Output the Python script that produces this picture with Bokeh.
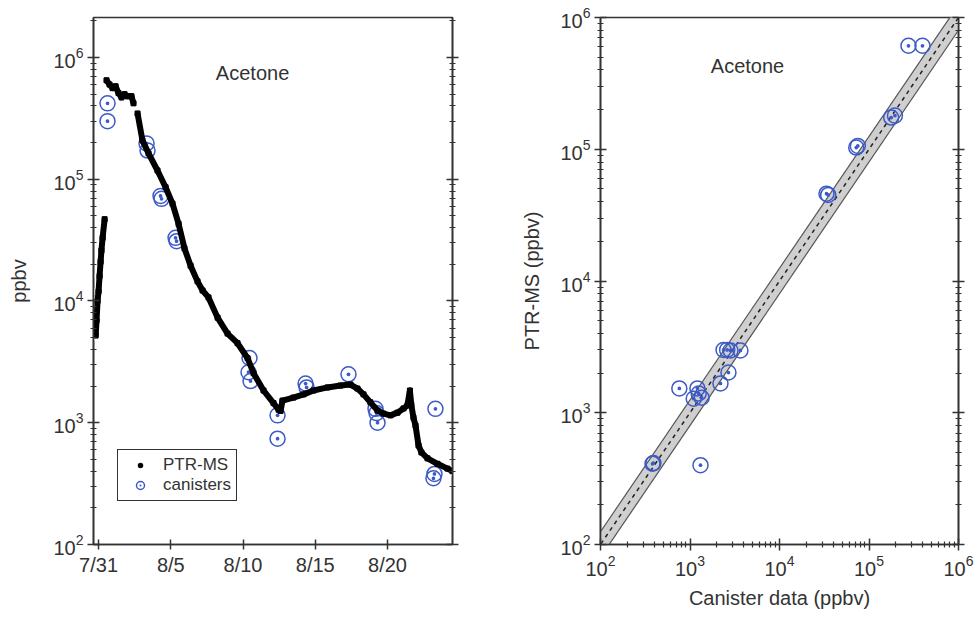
import math
from bokeh.plotting import figure
from bokeh.layouts import row
from bokeh.models import (Range1d, LogAxis, FixedTicker, LogTickFormatter, Label, Legend,
                          LegendItem, ColumnDataSource)
from bokeh.embed import file_html
from bokeh.resources import INLINE

nan = float("nan")

# ---------------- data (left panel: time series, days since 7/31) ----------------
ptr_day = [-0.2, -0.14, -0.07, 0.0, 0.07, 0.14, 0.2, 0.28, 0.42, nan,
           0.55, 0.76, 0.97, 1.18, 1.38, 1.59, 1.80, 2.0, 2.28, 2.42, nan,
           2.70, 3.04, 3.46, 4.08, 4.64, 5.12, 5.54, 5.95, 6.37, 6.85, 7.20, 7.61,
           8.24, 8.93, 9.62, 10.31, 10.73, 11.42, 12.11, 12.46, 12.60, 12.73, 13.49,
           14.19, 14.88, 15.85, 16.75, 17.44, 17.92, 18.34, 18.82, 19.31, 19.72,
           20.21, 20.69, 21.11, 21.38, 21.55, 21.65, 21.80, 21.94, 22.15, 22.35,
           22.77, 23.46, 24.15, 24.50]
ptr_val = [5.2e3, 6.9e3, 1.0e4, 1.2e4, 1.6e4, 2.1e4, 2.6e4, 3.3e4, 4.7e4, nan,
           6.5e5, 6.0e5, 5.6e5, 5.8e5, 5.1e5, 4.7e5, 5.0e5, 4.8e5, 4.8e5, 4.2e5, nan,
           3.47e5, 2.08e5, 1.63e5, 1.18e5, 8.6e4, 6.3e4, 4.3e4, 2.7e4, 1.95e4, 1.45e4, 1.22e4, 1.07e4,
           7.3e3, 5.4e3, 4.5e3, 3.4e3, 2.55e3, 1.84e3, 1.45e3, 1.28e3, 1.25e3, 1.52e3, 1.61e3,
           1.71e3, 1.84e3, 1.95e3, 2.02e3, 2.06e3, 1.91e3, 1.71e3, 1.47e3, 1.26e3, 1.19e3,
           1.15e3, 1.21e3, 1.31e3, 1.39e3, 1.84e3, 1.40e3, 1.10e3, 9.5e2, 6.5e2, 5.7e2,
           5.1e2, 4.6e2, 4.2e2, 4.0e2]

can_day = [0.62, 0.62, 3.32, 3.39, 4.29, 4.36, 5.33, 5.40, 10.45, 10.38, 10.52,
           12.39, 12.39, 14.33, 14.40, 17.30, 19.17, 19.24, 19.31, 23.32, 23.18, 23.25]
can_val = [4.2e5, 3.0e5, 1.97e5, 1.72e5, 7.3e4, 6.9e4, 3.3e4, 3.1e4, 3.4e3, 2.6e3, 2.2e3,
           1.15e3, 7.4e2, 2.1e3, 1.95e3, 2.5e3, 1.3e3, 1.2e3, 1.0e3, 1.3e3, 3.5e2, 3.8e2]

date_ticks = [0, 5, 10, 15, 20]
date_labels = ["7/31", "8/5", "8/10", "8/15", "8/20"]

# ---------------- data (right panel: canister vs PTR-MS) ----------------
sc_canister = [2.76e5, 3.96e5, 1.77e5, 1.95e5, 7.2e4, 7.5e4, 3.35e4, 3.5e4,
               2.37e3, 2.6e3, 2.84e3, 3.66e3, 2.69e3, 2.19e3, 7.6e2, 1.21e3,
               1.1e3, 1.25e3, 1.35e3, 3.81e2, 3.9e2, 1.31e3]
sc_ptrms = [6.1e5, 6.1e5, 1.74e5, 1.80e5, 1.03e5, 1.06e5, 4.6e4, 4.5e4,
            3.0e3, 3.0e3, 2.97e3, 2.97e3, 2.02e3, 1.67e3, 1.53e3, 1.53e3,
            1.28e3, 1.4e3, 1.3e3, 4.1e2, 4.15e2, 4.0e2]

one_to_one_x = [1e1, 1e7]
band_low_factor = 0.8
band_high_factor = 1.25

decades = [1e2, 1e3, 1e4, 1e5, 1e6]
minors = [m * d for d in [1e1, 1e2, 1e3, 1e4, 1e5, 1e6] for m in range(2, 10)]

# ---------------- styling ----------------
FONT = "Liberation Sans"
TXT = "#333333"
AX = "#333333"
BLUE = "#3c5ac8"


def style_axis(ax, labels=True):
    ax.axis_line_color = AX
    ax.axis_line_width = 1.6
    ax.major_tick_line_color = AX
    ax.major_tick_line_width = 1.5
    ax.major_tick_in = 6
    ax.major_tick_out = 6
    ax.minor_tick_line_color = AX
    ax.minor_tick_line_width = 1.2
    ax.minor_tick_in = 3
    ax.minor_tick_out = 3
    ax.major_label_text_font = FONT
    ax.major_label_text_color = TXT
    ax.major_label_text_font_size = "20px" if labels else "1px"
    if not labels:
        ax.major_label_text_alpha = 0
    ax.major_label_standoff = 4
    ax.axis_label_text_font = FONT
    ax.axis_label_text_color = TXT
    ax.axis_label_text_font_size = "20px"
    ax.axis_label_text_font_style = "normal"


# ---------------- left figure ----------------
p1 = figure(width=500, height=625, x_range=Range1d(-0.35, 24.5), y_range=Range1d(1e2, 2.13e6),
            y_axis_type="log", output_backend="svg", toolbar_location=None,
            min_border_left=93, min_border_right=48, min_border_top=17, min_border_bottom=80)
p1.grid.visible = False
p1.outline_line_color = AX
p1.outline_line_width = 1.6
p1.background_fill_color = "white"
p1.border_fill_color = "white"

xa = p1.xaxis[0]
xa.ticker = FixedTicker(ticks=date_ticks)
xa.major_label_overrides = {t: l for t, l in zip(date_ticks, date_labels)}
style_axis(xa)
xa.minor_tick_line_color = None
xa.major_tick_in = 5
xa.major_tick_out = 5

ya = p1.yaxis[0]
ya.ticker = FixedTicker(ticks=decades, minor_ticks=minors)
ya.formatter = LogTickFormatter()
ya.axis_label = "ppbv"
style_axis(ya)
ya.axis_label_standoff = 20

yr = LogAxis(ticker=FixedTicker(ticks=decades, minor_ticks=minors))
style_axis(yr, labels=False)
p1.add_layout(yr, "right")

ptr_src = ColumnDataSource(data=dict(x=ptr_day, y=ptr_val))

# PTR-MS point marks (black dot with white rim, drawn underneath; used for the legend glyph)
ptr_pts = p1.scatter("x", "y", source=ptr_src, marker="circle", size=8, fill_color="black",
                     line_color="white", line_width=2.5)
can_r = p1.scatter(can_day, can_val, marker="circle_dot", size=15, fill_color=None,
                   line_color=BLUE, line_width=1.5)
p1.line("x", "y", source=ptr_src, line_color="black", line_width=6, line_join="round")
p1.scatter("x", "y", source=ptr_src, marker="square", size=5, color="black")

p1.add_layout(Label(x=10.66, y=7.4e5, text="Acetone", text_align="center", text_baseline="middle",
                    text_font=FONT, text_font_size="20px", text_color=TXT))

leg = Legend(items=[LegendItem(label="PTR-MS", renderers=[ptr_pts]),
                    LegendItem(label="canisters", renderers=[can_r])],
             location=(24, 43), orientation="vertical")
leg.border_line_color = AX
leg.border_line_alpha = 1
leg.border_line_width = 1.5
leg.background_fill_alpha = 1
leg.padding = 5
leg.spacing = 0
leg.margin = 0
leg.glyph_width = 34
leg.glyph_height = 20
leg.label_height = 20
leg.label_standoff = 6
leg.label_text_font = FONT
leg.label_text_font_size = "17px"
leg.label_text_color = TXT
p1.add_layout(leg, "center")

# ---------------- right figure ----------------
p2 = figure(width=474, height=625, x_range=Range1d(1e2, 1e6), y_range=Range1d(1e2, 1e6),
            x_axis_type="log", y_axis_type="log", output_backend="svg", toolbar_location=None,
            min_border_left=100, min_border_right=16, min_border_top=17, min_border_bottom=81)
p2.grid.visible = False
p2.outline_line_color = AX
p2.outline_line_width = 1.6

xb = p2.xaxis[0]
xb.ticker = FixedTicker(ticks=decades, minor_ticks=minors)
xb.formatter = LogTickFormatter()
xb.axis_label = "Canister data (ppbv)"
style_axis(xb)
xb.axis_label_standoff = 8

yb = p2.yaxis[0]
yb.ticker = FixedTicker(ticks=decades, minor_ticks=minors)
yb.formatter = LogTickFormatter()
yb.axis_label = "PTR-MS (ppbv)"
style_axis(yb)
yb.axis_label_standoff = 14

yb2 = LogAxis(ticker=FixedTicker(ticks=decades, minor_ticks=minors))
style_axis(yb2, labels=False)
p2.add_layout(yb2, "right")

band_lo = [v * band_low_factor for v in one_to_one_x]
band_hi = [v * band_high_factor for v in one_to_one_x]
p2.varea(x=one_to_one_x, y1=band_lo, y2=band_hi, fill_color="#cfcfcf")
p2.line(one_to_one_x, band_lo, line_color="#555555", line_width=1.2)
p2.line(one_to_one_x, band_hi, line_color="#555555", line_width=1.2)
p2.line(one_to_one_x, one_to_one_x, line_color="#222222", line_width=1.5, line_dash="4 4")

p2.scatter(sc_canister, sc_ptrms, marker="circle_dot", size=15, fill_color=None,
           line_color=BLUE, line_width=1.5)

p2.add_layout(Label(x=4.39e3, y=4.25e5, text="Acetone", text_align="center", text_baseline="middle",
                    text_font=FONT, text_font_size="20px", text_color=TXT))

layout = row(p1, p2, spacing=0)
open("out.html", "w").write(file_html(layout, INLINE))
